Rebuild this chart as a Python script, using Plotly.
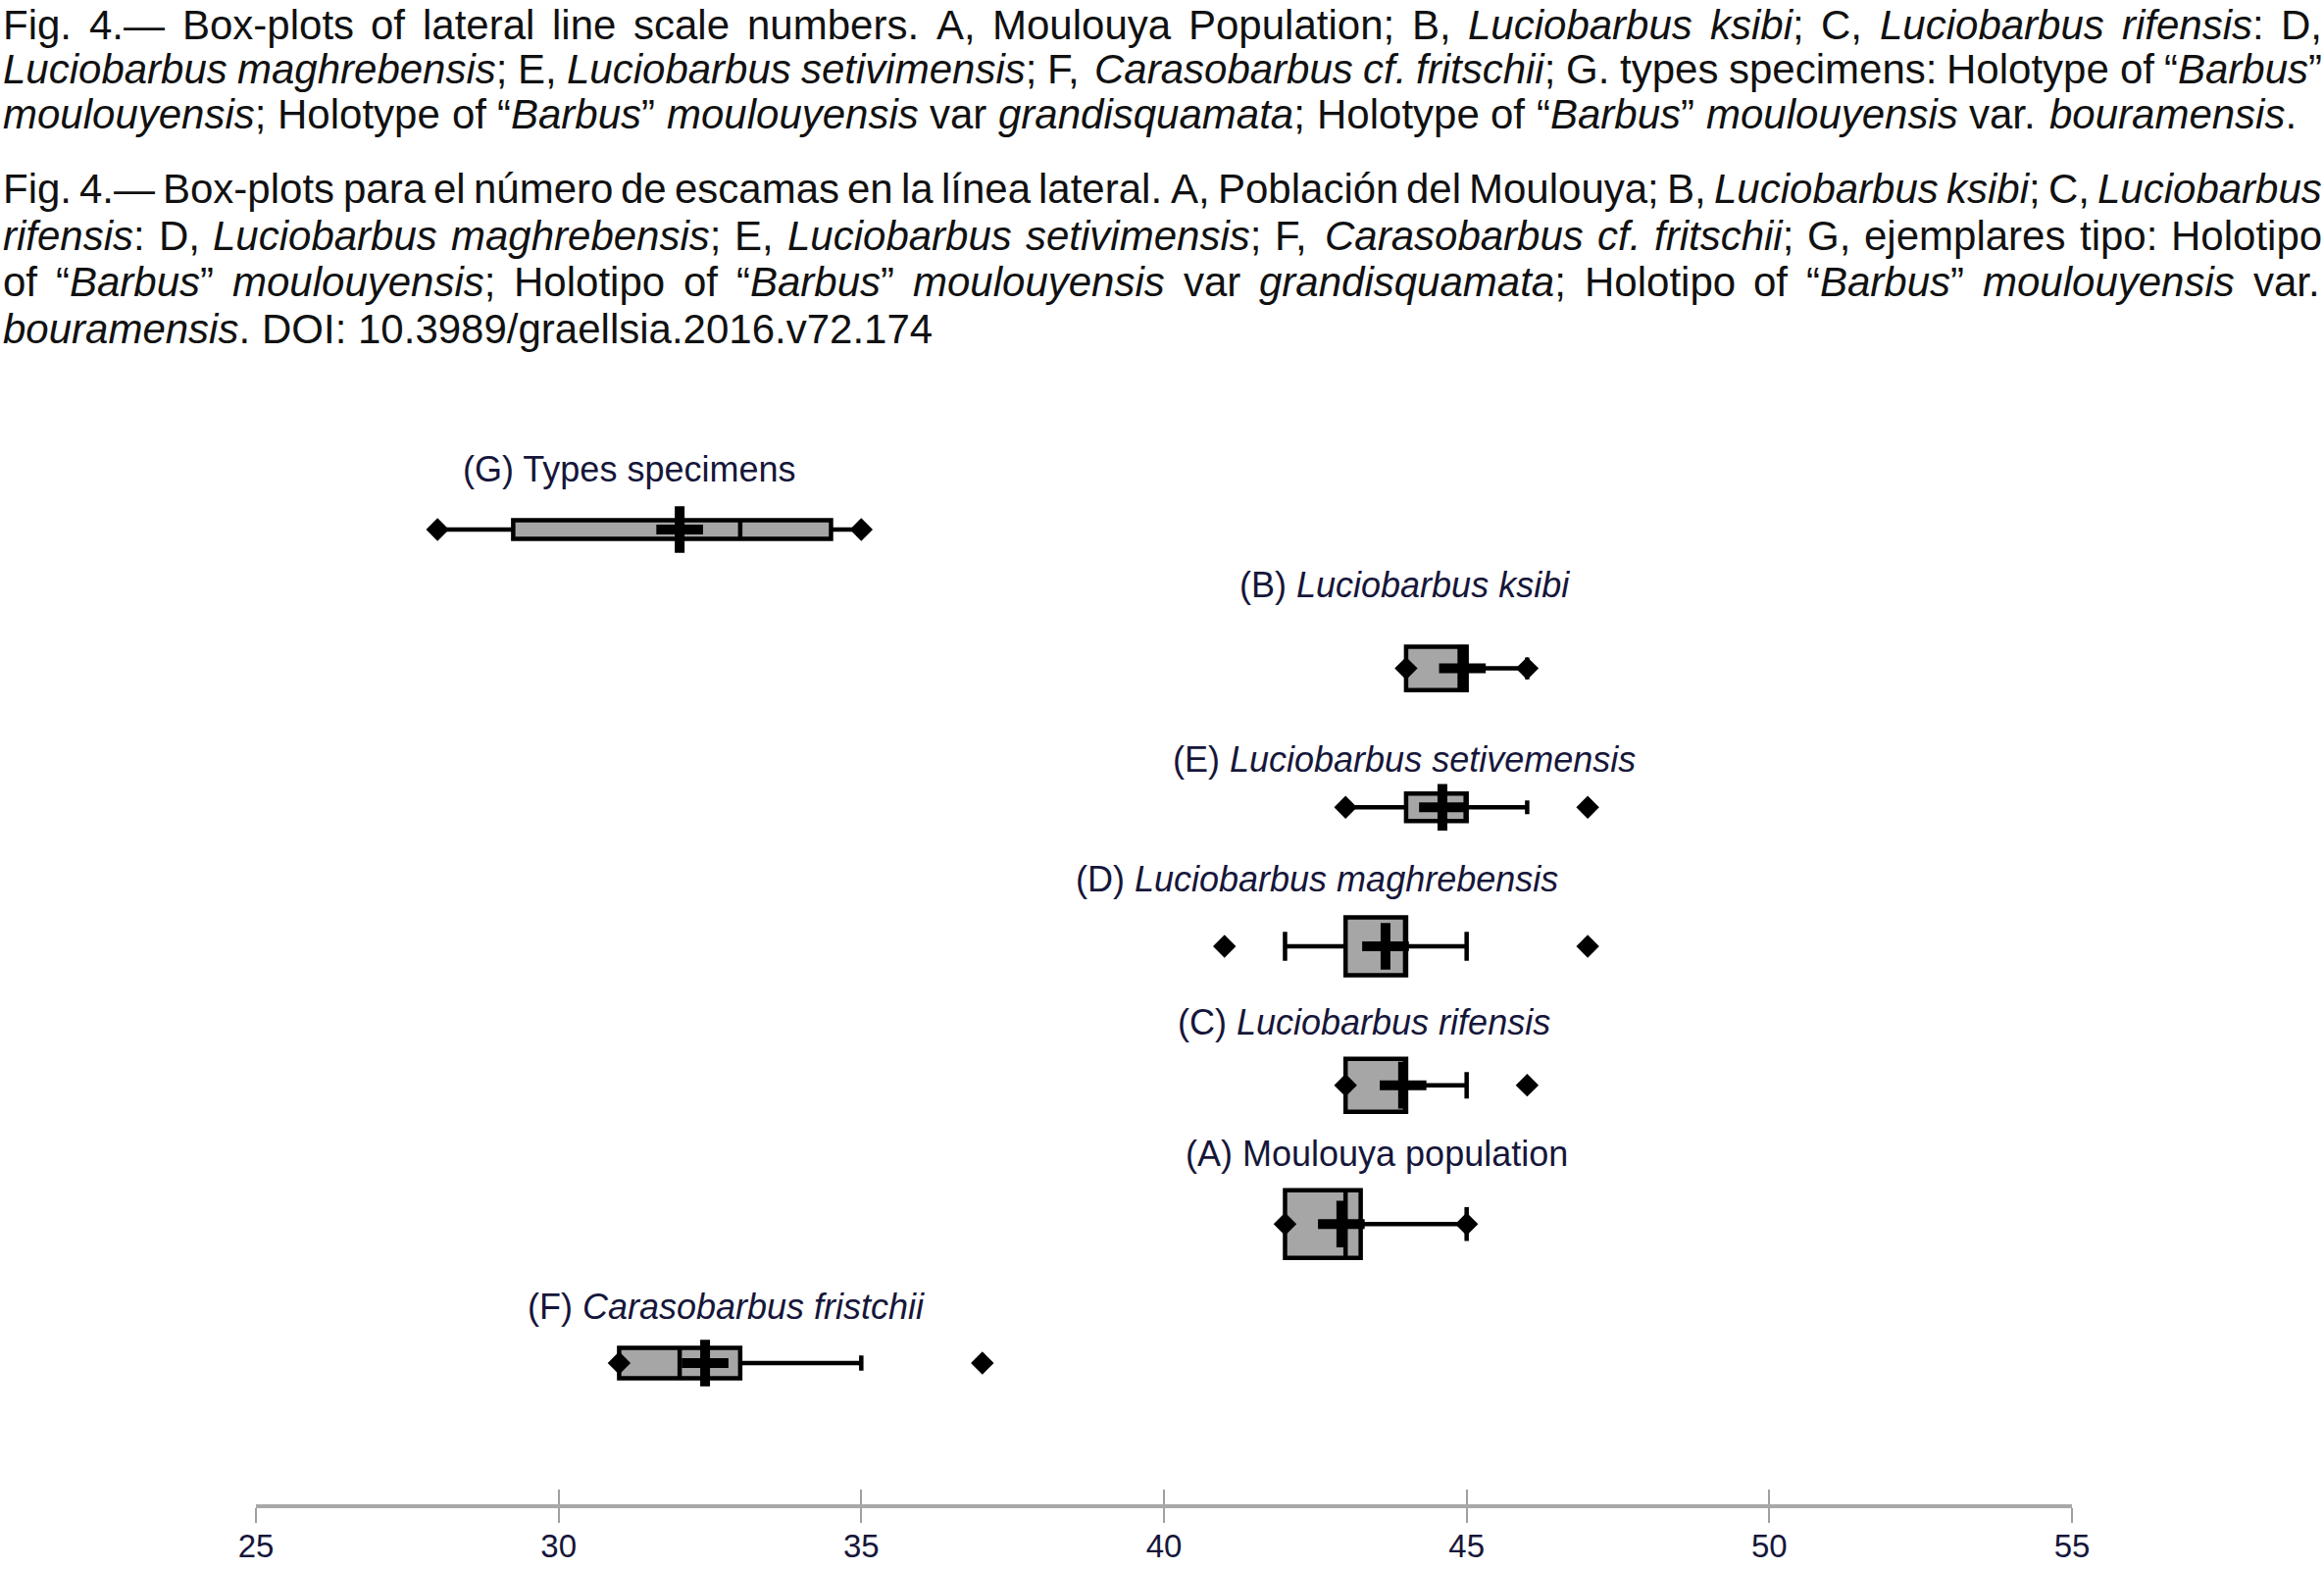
import re
import plotly.graph_objects as go

# ---------------- data ----------------
groups = ["G", "B", "E", "D", "C", "A", "F"]
group_labels = [
    "(G) Types specimens",
    "(B) <i>Luciobarbus ksibi</i>",
    "(E) <i>Luciobarbus setivemensis</i>",
    "(D) <i>Luciobarbus maghrebensis</i>",
    "(C) <i>Luciobarbus rifensis</i>",
    "(A) Moulouya population",
    "(F) <i>Carasobarbus fristchii</i>",
]
minimum = [28, 44, 43, 41, 43, 42, 31]
q1 = [29.25, 44, 44, 43, 43, 42, 31]
median = [33, 45, 45, 44, 44, 43, 32]
q3 = [34.5, 45, 45, 44, 44, 43.25, 33]
lower_whisker = [28, 44, 43, 42, 43, 42, 31]
upper_whisker = [35, 46, 46, 45, 45, 45, 35]
maximum = [35, 46, 47, 47, 46, 45, 37]
mean = [32.0, 44.93, 44.6, 43.66, 43.95, 42.93, 32.42]
label_x = [28.39, 41.22, 40.11, 38.51, 40.19, 40.32, 29.45]
x_ticks = [25, 30, 35, 40, 45, 50, 55]

caption_lines = [
    "Fig. 4.\u2014 Box-plots of lateral line scale numbers. A, Moulouya Population; B, <i>Luciobarbus ksibi</i>; C, <i>Luciobarbus rifensis</i>: D,",
    "<i>Luciobarbus maghrebensis</i>; E, <i>Luciobarbus setivimensis</i>; F, <i>Carasobarbus cf. fritschii</i>; G. types specimens: Holotype of \u201c<i>Barbus</i>\u201d",
    "<i>moulouyensis</i>; Holotype of \u201c<i>Barbus</i>\u201d <i>moulouyensis</i> var <i>grandisquamata</i>; Holotype of \u201c<i>Barbus</i>\u201d <i>moulouyensis</i> var. <i>bouramensis</i>.",
    "Fig. 4.\u2014 Box-plots para el n\u00famero de escamas en la l\u00ednea lateral. A, Poblaci\u00f3n del Moulouya; B, <i>Luciobarbus ksibi</i>; C, <i>Luciobarbus</i>",
    "<i>rifensis</i>: D, <i>Luciobarbus maghrebensis</i>; E, <i>Luciobarbus setivimensis</i>; F, <i>Carasobarbus cf. fritschii</i>; G, ejemplares tipo: Holotipo",
    "of \u201c<i>Barbus</i>\u201d <i>moulouyensis</i>; Holotipo of \u201c<i>Barbus</i>\u201d <i>moulouyensis</i> var <i>grandisquamata</i>; Holotipo of \u201c<i>Barbus</i>\u201d <i>moulouyensis</i> var.",
    "<i>bouramensis</i>. DOI: 10.3989/graellsia.2016.v72.174",
]
caption_justified = [True, True, False, True, True, True, False]

# ---------------- style / layout ----------------
FIG_W, FIG_H = 2370, 1600
M_L, M_R, M_T, M_B = 261, 257, 430, 66
PW = FIG_W - M_L - M_R
PH = FIG_H - M_T - M_B
Y_RANGE = [-1.0165, 6.776]
box_width = [0.134, 0.311, 0.198, 0.416, 0.381, 0.487, 0.219]
label_shift = [61, 85, 49, 68, 64, 72, 57]
caption_y_px = [25, 70, 117, 192, 240, 287, 335]
CAP_FS = 42
CAP_X0, CAP_X1 = 2, 2367
FONT = "Liberation Sans, Arial, Helvetica, sans-serif"
NAVY = "#16163a"

n = len(groups)
pos = [n - 1 - i for i in range(n)]

fig = go.Figure()

for i in range(n):
    fig.add_trace(go.Box(
        y=[pos[i]], q1=[q1[i]], median=[median[i]], q3=[q3[i]],
        lowerfence=[lower_whisker[i]], upperfence=[upper_whisker[i]],
        orientation="h", width=box_width[i], whiskerwidth=0.5,
        fillcolor="#a6a6a6", line=dict(color="black", width=4.5),
        boxpoints=False, showlegend=False, hoverinfo="skip",
    ))

# min / max diamonds
dx, dy = [], []
for i in range(n):
    dx += [minimum[i], maximum[i]]
    dy += [pos[i], pos[i]]
fig.add_trace(go.Scatter(
    x=dx, y=dy, mode="markers", showlegend=False, hoverinfo="skip",
    marker=dict(symbol="diamond", size=18, color="black", line=dict(width=0)),
))
# mean crosses
fig.add_trace(go.Scatter(
    x=mean, y=pos, mode="markers", showlegend=False, hoverinfo="skip",
    marker=dict(symbol="cross-thin", size=34, color="black",
                line=dict(width=10, color="black")),
))

annotations = []
for i in range(n):
    annotations.append(dict(
        x=label_x[i], y=pos[i], xref="x", yref="y", xanchor="left", yanchor="middle",
        yshift=label_shift[i], text=group_labels[i], showarrow=False,
        font=dict(family=FONT, size=36, color=NAVY),
    ))

# ---- justified caption ----
WID = {' ': 278, '!': 278, '"': 355, '(': 333, ')': 333, ',': 278, '-': 333, '.': 278,
       '/': 278, ':': 278, ';': 278, '\u201c': 333, '\u201d': 333, '\u2014': 1000,
       'A': 667, 'B': 667, 'C': 722, 'D': 722, 'E': 667, 'F': 611, 'G': 778, 'H': 722,
       'I': 278, 'J': 500, 'K': 667, 'L': 556, 'M': 833, 'N': 722, 'O': 778, 'P': 667,
       'Q': 778, 'R': 722, 'S': 667, 'T': 611, 'U': 722, 'V': 667, 'W': 944, 'X': 667,
       'Y': 667, 'Z': 611,
       'a': 556, 'b': 556, 'c': 500, 'd': 556, 'e': 556, 'f': 278, 'g': 556, 'h': 556,
       'i': 222, 'j': 222, 'k': 500, 'l': 222, 'm': 833, 'n': 556, 'o': 556, 'p': 556,
       'q': 556, 'r': 333, 's': 500, 't': 278, 'u': 556, 'v': 500, 'w': 722, 'x': 500,
       'y': 500, 'z': 500, '\u00fa': 556, '\u00ed': 278, '\u00f3': 556}


def twidth(s):
    plain = re.sub(r"<[^>]+>", "", s)
    return sum(WID.get(c, 556) for c in plain) * CAP_FS / 1000.0


def split_words(line):
    out = []
    ital = False
    for w in line.split(" "):
        start_ital = ital
        for m in re.finditer(r"</?i>", w):
            ital = (m.group(0) == "<i>")
        word = w
        if start_ital and not w.startswith("<i>"):
            word = "<i>" + word
        if ital:
            word = word + "</i>"
        out.append(word)
    return out


def px2paper_x(px):
    return (px - M_L) / PW


def px2paper_y(py):
    return (FIG_H - M_B - py) / PH


for li, line in enumerate(caption_lines):
    yp = px2paper_y(caption_y_px[li])
    words = split_words(line)
    widths = [twidth(w) for w in words]
    if caption_justified[li] and len(words) > 1:
        gap = (CAP_X1 - CAP_X0 - sum(widths)) / (len(words) - 1)
    else:
        gap = WID[' '] * CAP_FS / 1000.0
    x = CAP_X0
    for w, wd in zip(words, widths):
        annotations.append(dict(
            x=px2paper_x(x), y=yp, xref="paper", yref="paper",
            xanchor="left", yanchor="middle", text=w, showarrow=False,
            borderpad=0, font=dict(family=FONT, size=CAP_FS, color="#111111"),
        ))
        x += wd + gap

fig.update_layout(
    width=FIG_W, height=FIG_H,
    margin=dict(l=M_L, r=M_R, t=M_T, b=M_B, autoexpand=False),
    paper_bgcolor="white", plot_bgcolor="white",
    boxmode="overlay", showlegend=False,
    font=dict(family=FONT, color=NAVY),
    annotations=annotations,
    xaxis=dict(
        range=[25, 55], tickvals=x_ticks, ticktext=[str(t) for t in x_ticks],
        showgrid=False, zeroline=False, showline=True, linecolor="#a8a8a8", linewidth=4,
        ticks="outside", ticklen=15, tickwidth=2, tickcolor="#a0a0a0",
        tickfont=dict(family=FONT, size=33, color=NAVY), ticklabelstandoff=-5,
        automargin=False,
    ),
    xaxis2=dict(
        range=[25, 55], overlaying="x", anchor="y", side="bottom", matches="x",
        tickvals=x_ticks, showticklabels=False, showgrid=False, zeroline=False,
        showline=False, ticks="inside", ticklen=15, tickwidth=2, tickcolor="#a0a0a0",
        automargin=False,
    ),
    yaxis=dict(range=Y_RANGE, visible=False, automargin=False),
)
# invisible trace to keep xaxis2 active
fig.add_trace(go.Scatter(x=[25], y=[Y_RANGE[0] - 5], xaxis="x2", mode="markers",
                         marker=dict(opacity=0), showlegend=False, hoverinfo="skip"))

fig.write_html("out.html", config={"displayModeBar": False},
               post_script="document.body.style.margin='0';document.body.style.overflow='hidden';")
